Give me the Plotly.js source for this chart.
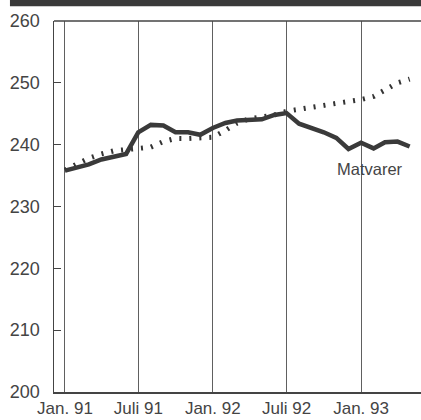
<!DOCTYPE html>
<html>
<head>
<meta charset="utf-8">
<script src="https://cdn.plot.ly/plotly-3.0.1.min.js"></script>
<style>
html,body{margin:0;padding:0;background:#fff;}
#chart{width:421px;height:420px;}
</style>
</head>
<body>
<div id="chart"></div>
<script>
// Months (first of month), Jan 1991 – May 1993
var months = [
  '1991-01-01','1991-02-01','1991-03-01','1991-04-01','1991-05-01','1991-06-01',
  '1991-07-01','1991-08-01','1991-09-01','1991-10-01','1991-11-01','1991-12-01',
  '1992-01-01','1992-02-01','1992-03-01','1992-04-01','1992-05-01','1992-06-01',
  '1992-07-01','1992-08-01','1992-09-01','1992-10-01','1992-11-01','1992-12-01',
  '1993-01-01','1993-02-01','1993-03-01','1993-04-01','1993-05-01'
];
// Solid line: Matvarer
var matvarer = [
  235.8, 236.3, 236.8, 237.6, 238.0, 238.5,
  242.0, 243.2, 243.1, 242.0, 242.0, 241.6,
  242.7, 243.5, 243.9, 244.0, 244.1, 244.8,
  245.1, 243.4, 242.7, 242.0, 241.1, 239.3,
  240.3, 239.4, 240.4, 240.5, 239.7
];
// Dotted line
var dotted = [
  235.9, 237.0, 237.8, 238.5, 239.0, 239.2,
  239.3, 239.6, 240.5, 241.0, 241.0, 241.0,
  241.2, 242.3, 243.5, 244.2, 244.4, 244.8,
  245.4, 245.7, 246.0, 246.3, 246.6, 247.0,
  247.3, 247.8, 248.9, 250.0, 250.6
];
var tickDates = ['1991-01-01','1991-07-01','1992-01-01','1992-07-01','1993-01-01'];
var tickLabels = ['Jan. 91','Juli 91','Jan. 92','Juli 92','Jan. 93'];
var yTicks = [200, 210, 220, 230, 240, 250, 260];
var seriesLabel = 'Matvarer';

var FONT = '"Liberation Sans", Arial, Helvetica, sans-serif';

var traces = [
  {
    x: months, y: dotted, type: 'scatter', mode: 'lines',
    line: {color: '#333333', width: 5, dash: '2px,8px'},
    hoverinfo: 'skip'
  },
  {
    x: months, y: matvarer, type: 'scatter', mode: 'lines',
    line: {color: '#3a3a3a', width: 4.5},
    name: seriesLabel
  }
];

var layout = {
  width: 421, height: 420,
  margin: {l: 54, r: 0, t: 21, b: 28},
  paper_bgcolor: '#ffffff', plot_bgcolor: '#ffffff',
  showlegend: false,
  font: {family: FONT, color: '#444444', size: 18},
  xaxis: {
    type: 'date',
    range: ['1990-12-05', '1993-05-29'],
    tickmode: 'array', tickvals: tickDates, ticktext: tickLabels,
    showgrid: true, gridcolor: '#606060', gridwidth: 1,
    ticks: '', ticklen: 0,
    showline: true, linecolor: '#444444', linewidth: 1.5,
    mirror: false,
    zeroline: false,
    tickfont: {family: FONT, size: 17, color: '#444444'},
    ticklabelstandoff: 0
  },
  yaxis: {
    range: [200, 260],
    tickmode: 'array', tickvals: yTicks,
    showgrid: false,
    ticks: 'inside', ticklen: 7, tickcolor: '#444444', tickwidth: 1,
    showline: true, linecolor: '#444444', linewidth: 1.5,
    zeroline: false,
    tickfont: {family: FONT, size: 18, color: '#444444'},
    ticklabelstandoff: 9
  },
  annotations: [
    {
      x: '1993-01-23', y: 236.1, xref: 'x', yref: 'y',
      text: seriesLabel, showarrow: false,
      font: {family: FONT, size: 16.5, color: '#444444'},
      xanchor: 'center', yanchor: 'middle'
    }
  ],
  shapes: [
    // top border of frame
    {type: 'line', xref: 'paper', yref: 'paper', x0: 0, x1: 1, y0: 1, y1: 1,
     line: {color: '#444444', width: 1.5}},
    // dark scan band at the top
    {type: 'rect', xref: 'paper', yref: 'paper', x0: -0.12, x1: 1.0, y0: 1.0395, y1: 1.06,
     fillcolor: '#3a3a3a', line: {width: 0}, layer: 'above'}
  ]
};

Plotly.newPlot('chart', traces, layout, {displayModeBar: false, staticPlot: true});
</script>
</body>
</html>
